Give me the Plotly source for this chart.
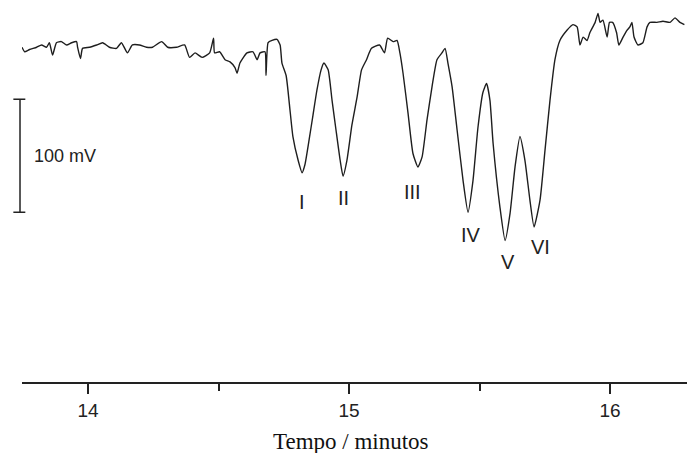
import plotly.graph_objects as go

# retention time (min) and detector signal (mV, 0 = baseline)
tempo = [13.747, 13.757, 13.776, 13.803, 13.822, 13.841, 13.852, 13.864, 13.879, 13.898,
         13.918, 13.937, 13.956, 13.960, 13.971, 13.979, 14.006, 14.033, 14.056, 14.082,
         14.109, 14.128, 14.151, 14.170, 14.197, 14.224, 14.247, 14.282, 14.305, 14.339,
         14.370, 14.389, 14.410, 14.437, 14.466, 14.481, 14.485, 14.504, 14.525, 14.544,
         14.563, 14.571, 14.582, 14.609, 14.632, 14.648, 14.659, 14.678, 14.682, 14.690,
         14.705, 14.724, 14.736, 14.743, 14.759, 14.774, 14.785, 14.805, 14.820, 14.831,
         14.847, 14.862, 14.877, 14.893, 14.904, 14.920, 14.935, 14.950, 14.966, 14.977,
         14.992, 15.011, 15.031, 15.048, 15.067, 15.086, 15.117, 15.136, 15.148, 15.169,
         15.184, 15.195, 15.207, 15.226, 15.245, 15.264, 15.280, 15.299, 15.318, 15.337,
         15.356, 15.368, 15.379, 15.395, 15.414, 15.437, 15.456, 15.475, 15.494, 15.513,
         15.527, 15.540, 15.552, 15.578, 15.598, 15.617, 15.636, 15.655, 15.674, 15.693,
         15.709, 15.732, 15.751, 15.770, 15.789, 15.808, 15.835, 15.858, 15.874, 15.885,
         15.897, 15.912, 15.923, 15.943, 15.954, 15.962, 15.973, 15.989, 15.998, 16.010,
         16.025, 16.034, 16.050, 16.065, 16.076, 16.084, 16.092, 16.107, 16.126, 16.142,
         16.153, 16.180, 16.203, 16.230, 16.249, 16.268, 16.285]
sinal = [-2, -6, -4, -2, 0, -2, 2, -9, 2, 3,
         0, 2, 3, -2, -12, -3, -2, 0, 2, -2,
         -3, 2, -7, 0, 0, -2, -2, 3, -2, -2,
         0, -11, -7, -11, -7, 6, -7, -6, -13, -15,
         -20, -25, -16, -7, -6, -13, -7, -6, -27, 2,
         4, 5, 0, -16, -27, -58, -81, -102, -113, -106,
         -84, -62, -40, -22, -16, -22, -49, -75, -102, -116,
         -102, -71, -46, -22, -13, -3, 0, -7, 6, 3,
         4, -7, -25, -60, -96, -108, -99, -66, -37, -13,
         -7, -3, -16, -37, -75, -120, -148, -120, -73, -42,
         -34, -49, -87, -143, -173, -149, -108, -81, -102, -137,
         -161, -137, -93, -49, -13, 4, 13, 18, 16, 0,
         7, 4, 11, 20, 28, 20, 22, 7, 20, 20,
         11, 0, 7, 13, 16, 20, 7, 0, 2, 16,
         20, 20, 21, 20, 24, 20, 18]

picos = ['I', 'II', 'III', 'IV', 'V', 'VI']
picos_t = [14.820, 14.977, 15.245, 15.467, 15.609, 15.732]
picos_y = [-139, -135, -130, -168, -192, -179]

escala_topo = -48
escala_mv = 100

fig = go.Figure()
fig.add_trace(go.Scatter(x=tempo, y=sinal, mode='lines',
                         line=dict(color='#1e1e1e', width=1.4, shape='spline', smoothing=0.5),
                         showlegend=False, hoverinfo='skip'))

for lab, t, y in zip(picos, picos_t, picos_y):
    fig.add_annotation(x=t, y=y, text=lab, showarrow=False,
                       font=dict(family='Liberation Sans, Arial', size=20, color='#222'))

# scale bar (100 mV)
fig.add_shape(type='line', xref='paper', yref='y', x0=-0.003, x1=-0.003,
              y0=escala_topo, y1=escala_topo - escala_mv,
              line=dict(color='#222', width=1.5))
for yy in [escala_topo, escala_topo - escala_mv]:
    fig.add_shape(type='line', xref='paper', yref='y', x0=-0.013, x1=0.005,
                  y0=yy, y1=yy, line=dict(color='#222', width=1.5))
fig.add_annotation(xref='paper', yref='y', x=0.015, y=escala_topo - escala_mv / 2,
                   xanchor='left', text=f'{escala_mv} mV', showarrow=False,
                   font=dict(family='Liberation Sans, Arial', size=18, color='#222'))

# axis title
fig.add_annotation(xref='paper', yref='paper', x=0.495, y=-0.157, text='Tempo / minutos',
                   showarrow=False, yanchor='middle',
                   font=dict(family='Liberation Serif, Times New Roman', size=23, color='#111'))

fig.update_layout(
    width=687, height=453,
    margin=dict(l=22, r=0, t=0, b=71, autoexpand=False),
    paper_bgcolor='white', plot_bgcolor='white',
    xaxis=dict(range=[13.747, 16.295], tickvals=[14, 15, 16], automargin=False,
               showgrid=False, zeroline=False,
               showline=True, linecolor='#222', linewidth=1.5,
               ticks='outside', ticklen=10, tickwidth=1.5, tickcolor='#222',
               minor=dict(tickvals=[14.5, 15.5], ticks='outside', ticklen=7,
                          tickwidth=1.5, tickcolor='#222', showgrid=False),
               tickfont=dict(family='Liberation Sans, Arial', size=19, color='#222')),
    yaxis=dict(range=[-298.2, 39.8], visible=False, automargin=False),
)

fig.write_html("out.html", config={'displayModeBar': False},
               post_script="document.body.style.margin='0';")
